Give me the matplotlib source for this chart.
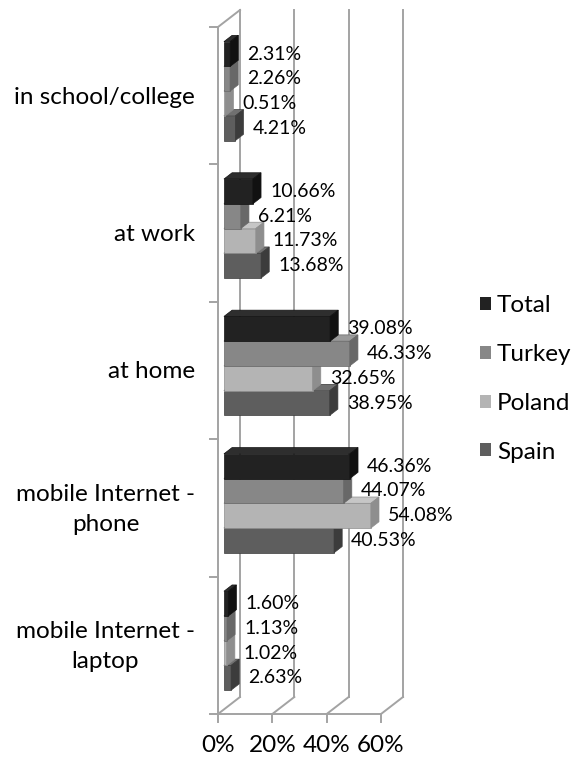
import matplotlib.pyplot as plt
from matplotlib.patches import Polygon, Patch

plt.rcParams['font.family'] = ['Lato', 'DejaVu Sans']

categories = ["mobile Internet -\nlaptop", "mobile Internet -\nphone", "at home", "at work", "in school/college"]
series = ["Total", "Turkey", "Poland", "Spain"]
total = [1.60, 46.36, 39.08, 10.66, 2.31]
turkey = [1.13, 44.07, 46.33, 6.21, 2.26]
poland = [1.02, 54.08, 32.65, 11.73, 0.51]
spain = [2.63, 40.53, 38.95, 13.68, 4.21]
values = [total, turkey, poland, spain]
xticks = [0, 20, 40, 60]

# front / top / side shades for each series
front = ["#222222", "#878787", "#b4b4b4", "#5e5e5e"]
top = ["#2e2e2e", "#9a9a9a", "#c6c6c6", "#707070"]
side = ["#111111", "#686868", "#8e8e8e", "#3c3c3c"]

fig = plt.figure(figsize=(5.72, 7.6), dpi=100)
ax = fig.add_axes([218 / 572, 46 / 760, 163 / 572, 687 / 760])
ax.set_xlim(0, 60)
ax.set_ylim(0, 5)
ax.axis('off')

sx = 163 / 60.0     # pixels per percent
sy = 687 / 5.0      # pixels per category
DX = 22 / sx        # depth offset of the back wall
DY = 17 / sy
d0, d1 = 0.27, 0.64  # bars sit between these depth fractions
bh = 0.18
grid = "#a3a3a3"
big = 17.5

# back wall gridlines and floor
for t in xticks:
    ax.plot([t + DX, t + DX], [DY, 5 + DY], color=grid, lw=1.4, clip_on=False, zorder=0)
    ax.plot([t, t + DX], [0, DY], color=grid, lw=1.4, clip_on=False, zorder=0)
    ax.plot([t, t], [0, -8 / sy], color=grid, lw=1.4, clip_on=False, zorder=0)
    ax.text(t, -32 / sy, f"{t}%", ha='center', va='center', fontsize=big)
ax.plot([0, 60], [0, 0], color=grid, lw=1.4, clip_on=False, zorder=0)
ax.plot([0, 0], [0, 5], color=grid, lw=1.4, clip_on=False, zorder=0)
ax.plot([0, DX], [5, 5 + DY], color=grid, lw=1.4, clip_on=False, zorder=0)
for k in range(6):
    ax.plot([-8 / sx, 0], [k, k], color=grid, lw=1.4, clip_on=False, zorder=0)

x0 = d0 * DX
ex = (d1 - d0) * DX
ey = (d1 - d0) * DY
for i, cat in enumerate(categories):
    c = i + 0.5
    ax.text(-23 / sx, c - 0.01, cat, ha='right', va='center', multialignment='center',
            fontsize=big, linespacing=1.5)
    for j in range(3, -1, -1):
        v = values[j][i]
        ybot = c + 2 * bh - (j + 1) * bh + d0 * DY
        ytop = ybot + bh
        ax.barh(ybot + bh / 2, v, left=x0, height=bh, color=front[j],
                edgecolor=side[j], linewidth=0.5, clip_on=False, zorder=2)
        ax.add_patch(Polygon([(x0, ytop), (x0 + v, ytop), (x0 + v + ex, ytop + ey), (x0 + ex, ytop + ey)],
                             closed=True, facecolor=top[j], edgecolor=side[j], lw=0.5,
                             clip_on=False, zorder=2))
        ax.add_patch(Polygon([(x0 + v, ybot), (x0 + v, ytop), (x0 + v + ex, ytop + ey), (x0 + v + ex, ybot + ey)],
                             closed=True, facecolor=side[j], edgecolor=side[j], lw=0.5,
                             clip_on=False, zorder=2))
        ax.text(x0 + v + ex + 9 / sx, ybot + bh / 2, f"{v:.2f}%", ha='left', va='center',
                fontsize=14, zorder=3)

handles = [Patch(facecolor=front[j], label=series[j]) for j in range(4)]
fig.legend(handles=handles, loc='center left', bbox_to_anchor=(480 / 572, 1 - 379 / 760),
           frameon=False, fontsize=big, handlelength=0.45, handleheight=0.45,
           handletextpad=0.25, labelspacing=1.14, borderaxespad=0, borderpad=0)

fig.savefig("out.png", dpi=100)
